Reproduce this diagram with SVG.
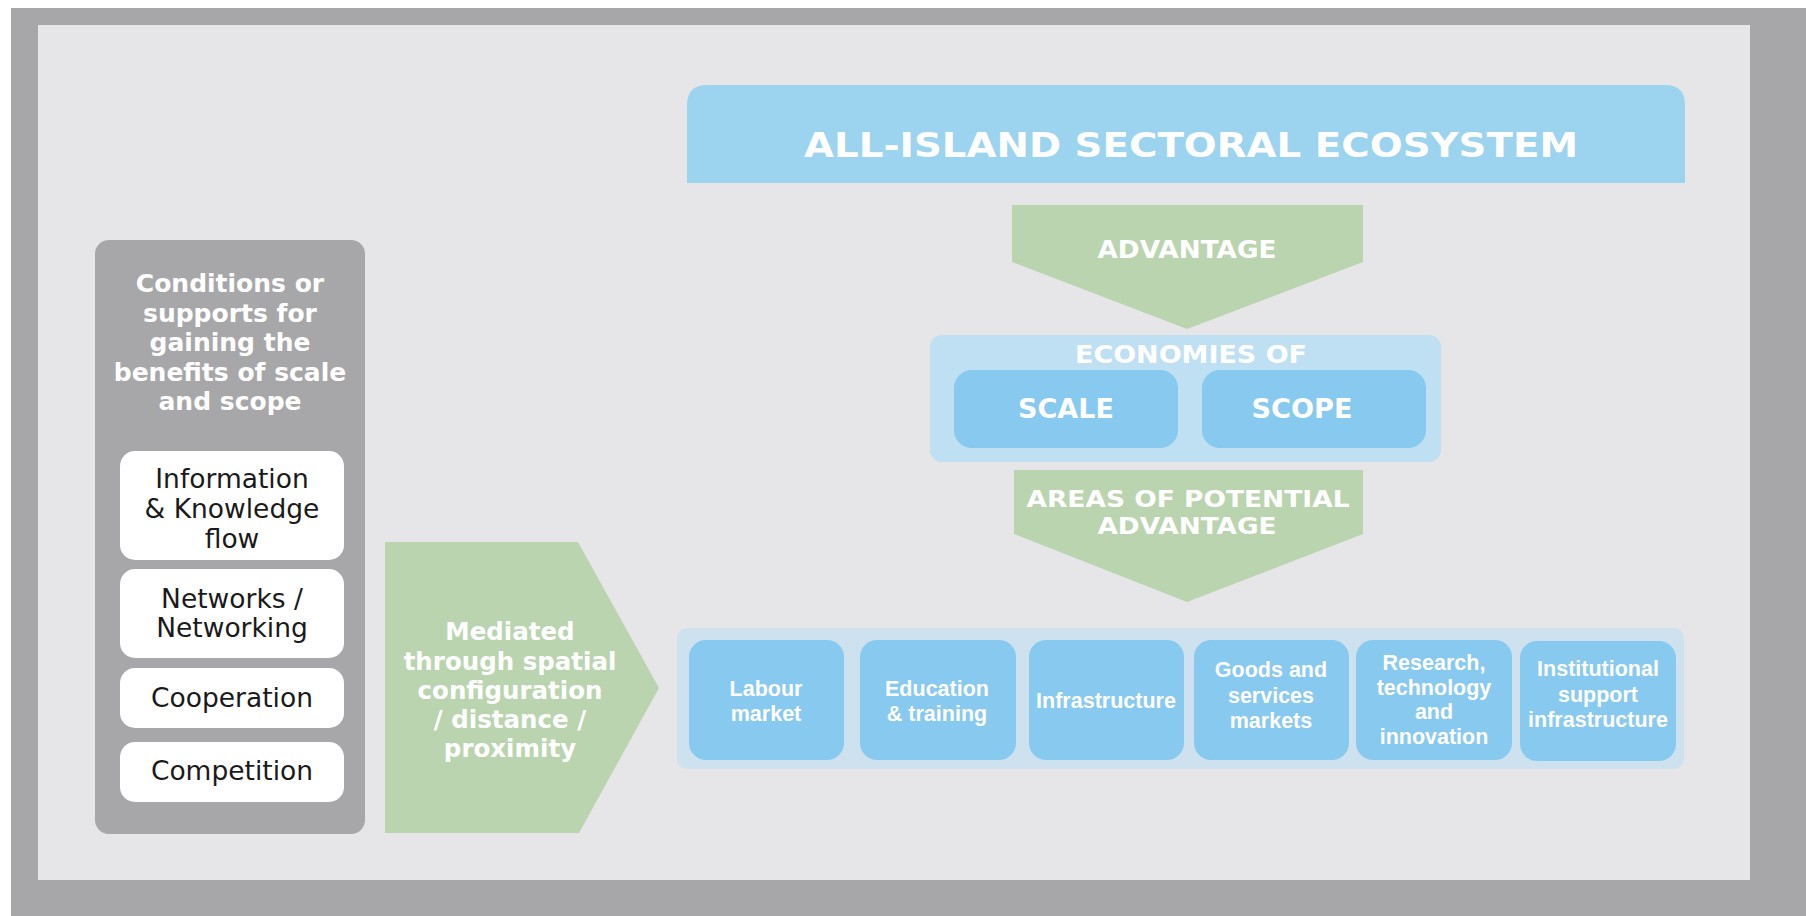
<svg xmlns="http://www.w3.org/2000/svg" width="1806" height="916" viewBox="0 0 1806 916">
<defs>
<style>
.grey{fill:#a7a7a9}
.green{fill:#bbd4b0}
.blue{fill:#88c9ef}
.wbox{fill:#ffffff}
.cap{font-family:"DejaVu Sans","Liberation Sans",sans-serif;font-weight:bold;fill:#ffffff;text-anchor:middle}
.head{font-family:"DejaVu Sans","Liberation Sans",sans-serif;font-weight:bold;font-size:25px;fill:#ffffff;text-anchor:middle}
.med{font-family:"DejaVu Sans","Liberation Sans",sans-serif;font-weight:bold;font-size:24.5px;fill:#ffffff;text-anchor:middle}
.item{font-family:"DejaVu Sans","Liberation Sans",sans-serif;font-size:26.5px;fill:#1a1a1a;text-anchor:middle}
.area{font-family:"Liberation Sans",Arial,sans-serif;font-weight:bold;font-size:21.5px;fill:#ffffff;text-anchor:middle}
</style>
</defs>
<rect x="0" y="0" width="1806" height="916" fill="#ffffff"/>
<rect x="11" y="8" width="1795" height="908" class="grey"/>
<rect x="38" y="25" width="1712" height="855" fill="#e6e6e8"/>

<g id="title">
<path d="M687,183 L687,105 Q687,85 707,85 L1665,85 Q1685,85 1685,105 L1685,183 Z" fill="#9cd3ee"/>
<text class="cap" x="1191" y="157" font-size="33" textLength="774" lengthAdjust="spacingAndGlyphs">ALL-ISLAND SECTORAL ECOSYSTEM</text>
</g>

<g id="conditions">
<rect x="95" y="240" width="270" height="594" rx="14" class="grey"/>
<text class="head" x="230" y="292">Conditions or</text>
<text class="head" x="230" y="322">supports for</text>
<text class="head" x="230" y="351">gaining the</text>
<text class="head" x="230" y="381">benefits of scale</text>
<text class="head" x="230" y="410">and scope</text>
</g>
<g id="info-knowledge">
<rect x="120" y="451" width="224" height="109" rx="15" class="wbox"/>
<text class="item" x="232" y="488">Information</text>
<text class="item" x="232" y="518">&amp; Knowledge</text>
<text class="item" x="232" y="548">flow</text>
</g>
<g id="networks">
<rect x="120" y="569" width="224" height="89" rx="15" class="wbox"/>
<text class="item" x="232" y="608">Networks /</text>
<text class="item" x="232" y="637">Networking</text>
</g>
<g id="cooperation">
<rect x="120" y="668" width="224" height="60" rx="15" class="wbox"/>
<text class="item" x="232" y="707">Cooperation</text>
</g>
<g id="competition">
<rect x="120" y="742" width="224" height="60" rx="15" class="wbox"/>
<text class="item" x="232" y="780">Competition</text>
</g>

<g id="connectors">
<g id="arrow-mediated">
<polygon points="385,542 578,542 659,688 579,833 385,833" class="green"/>
<text class="med" x="510" y="640">Mediated</text>
<text class="med" x="510" y="669.5">through spatial</text>
<text class="med" x="510" y="699">configuration</text>
<text class="med" x="510" y="728">/ distance /</text>
<text class="med" x="510" y="757">proximity</text>
</g>
<g id="arrow-advantage">
<polygon points="1012,205 1363,205 1363,262 1187,329 1012,262" class="green"/>
<text class="cap" x="1187" y="258" font-size="25" textLength="179" lengthAdjust="spacingAndGlyphs">ADVANTAGE</text>
</g>
<g id="arrow-areas">
<polygon points="1014,470 1363,470 1363,534 1187,602 1014,534" class="green"/>
<text class="cap" x="1188" y="507" font-size="22.5" textLength="323" lengthAdjust="spacingAndGlyphs">AREAS OF POTENTIAL</text>
<text class="cap" x="1187" y="534" font-size="22.5" textLength="179" lengthAdjust="spacingAndGlyphs">ADVANTAGE</text>
</g>
</g>

<g id="economies">
<rect x="930" y="335" width="511" height="127" rx="12" fill="#bfdff3"/>
<text class="cap" x="1191" y="363" font-size="24" textLength="232" lengthAdjust="spacingAndGlyphs">ECONOMIES OF</text>
</g>
<g id="scale">
<rect x="954" y="370" width="224" height="78" rx="18" class="blue"/>
<text class="cap" x="1066" y="418" font-size="26" textLength="96" lengthAdjust="spacingAndGlyphs">SCALE</text>
</g>
<g id="scope">
<rect x="1202" y="370" width="224" height="78" rx="18" class="blue"/>
<text class="cap" x="1302" y="418" font-size="26" textLength="101" lengthAdjust="spacingAndGlyphs">SCOPE</text>
</g>

<g id="areas-container">
<rect x="677" y="628" width="1007" height="141" rx="10" fill="#cde2ee"/>
</g>
<g id="labour-market">
<rect x="689" y="640" width="155" height="120" rx="17" class="blue"/>
<text class="area" x="766" y="696">Labour</text>
<text class="area" x="766" y="721">market</text>
</g>
<g id="education-training">
<rect x="860" y="640" width="156" height="120" rx="17" class="blue"/>
<text class="area" x="937" y="696">Education</text>
<text class="area" x="937" y="721">&amp; training</text>
</g>
<g id="infrastructure">
<rect x="1029" y="640" width="155" height="120" rx="17" class="blue"/>
<text class="area" x="1106" y="708">Infrastructure</text>
</g>
<g id="goods-services">
<rect x="1194" y="640" width="155" height="120" rx="17" class="blue"/>
<text class="area" x="1271" y="677">Goods and</text>
<text class="area" x="1271" y="703">services</text>
<text class="area" x="1271" y="728">markets</text>
</g>
<g id="research-technology">
<rect x="1356" y="640" width="156" height="120" rx="17" class="blue"/>
<text class="area" x="1434" y="670">Research,</text>
<text class="area" x="1434" y="695">technology</text>
<text class="area" x="1434" y="719">and</text>
<text class="area" x="1434" y="744">innovation</text>
</g>
<g id="institutional-support">
<rect x="1520" y="641" width="156" height="120" rx="17" class="blue"/>
<text class="area" x="1598" y="676">Institutional</text>
<text class="area" x="1598" y="702">support</text>
<text class="area" x="1598" y="727">infrastructure</text>
</g>
</svg>
